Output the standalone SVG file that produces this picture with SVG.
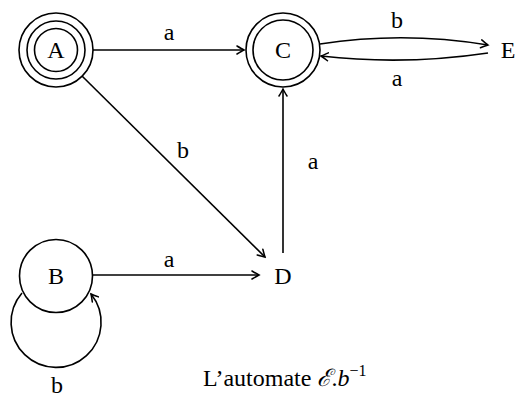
<svg xmlns="http://www.w3.org/2000/svg" width="518" height="398" viewBox="0 0 518 398">
<style>
.s{fill:none;stroke:#000;stroke-width:1.6}
.e{fill:none;stroke:#000;stroke-width:1.6;marker-end:url(#ar)}
.m{text-anchor:middle}
</style>
<defs>
<marker id="ar" viewBox="-8 -5 10 10" refX="0" refY="0" markerWidth="10" markerHeight="10" markerUnits="userSpaceOnUse" orient="auto">
<path d="M -7 -4 Q -2 -1 0 0 Q -2 1 -7 4" fill="none" stroke="#000" stroke-width="1.5" stroke-linecap="round"/>
</marker>
</defs>
<rect width="518" height="398" fill="#fff"/>
<g font-family="'Liberation Serif', 'Times New Roman', Times, serif" font-size="24" fill="#000">
<g id="A">
<circle class="s" cx="56" cy="50" r="37"/>
<circle class="s" cx="56" cy="50" r="29"/>
<circle class="s" cx="56" cy="50" r="21.5"/>
<text class="m" x="56" y="58">A</text>
</g>
<g id="C">
<circle class="s" cx="283" cy="50" r="37"/>
<circle class="s" cx="283" cy="50" r="30"/>
<text class="m" x="283" y="58">C</text>
</g>
<g id="E">
<text class="m" x="508" y="58">E</text>
</g>
<g id="B">
<circle class="s" cx="56" cy="276" r="36.5"/>
<text class="m" x="56" y="284">B</text>
</g>
<g id="D">
<text class="m" x="283" y="284">D</text>
</g>
<g id="edges">
<path class="e" d="M 93 50 L 244 50"/>
<path class="e" d="M 82 76 L 265 257"/>
<path class="e" d="M 93 275 L 259 275"/>
<path class="e" d="M 283 253 L 283 89"/>
<path class="e" d="M 320 44 Q 404 31 488 45"/>
<path class="e" d="M 488 53 Q 404 65.5 321 56"/>
<path class="e" d="M 22 293 A 45 45 0 1 0 91 294"/>
<text class="m" x="169" y="40">a</text>
<text class="m" x="397" y="28">b</text>
<text class="m" x="397" y="86">a</text>
<text class="m" x="183" y="158">b</text>
<text class="m" x="313" y="169">a</text>
<text class="m" x="169" y="267">a</text>
<text class="m" x="57" y="393">b</text>
</g>
<g id="caption">
<text x="203" y="386">L’automate <tspan font-style="italic" font-family="'DejaVu Serif', serif">ℰ</tspan>.<tspan font-style="italic">b</tspan><tspan font-size="16" dy="-10">−1</tspan></text>
</g>
</g>
</svg>
